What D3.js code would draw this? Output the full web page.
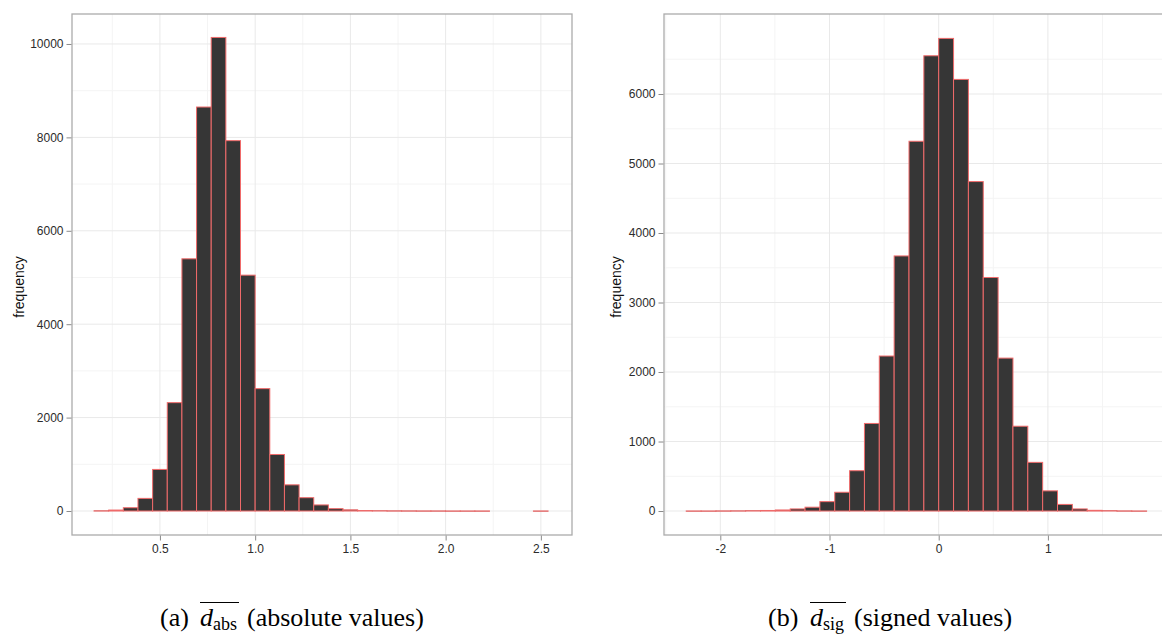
<!DOCTYPE html>
<html>
<head>
<meta charset="utf-8">
<script src="https://cdn.jsdelivr.net/npm/d3@7"></script>
<style>
  html, body { margin: 0; padding: 0; background: #fff; }
  svg { display: block; }
</style>
</head>
<body>
<svg id="chart" width="1162" height="635"></svg>
<script>
// ---------- DATA ----------
// Panel (a): absolute values histogram
const absBinStart = 0.154;
const absBinWidth = 0.0769;
const absCounts = [5, 20, 70, 270, 890, 2320, 5400, 8650, 10140, 7930, 5050, 2620, 1210, 560, 285, 130, 50, 25, 10, 6, 4, 3, 2, 2, 1, 1, 1, 0, 0, 0, 1];
const absXTicks = [0.5, 1.0, 1.5, 2.0, 2.5];
const absXTickLabels = ["0.5", "1.0", "1.5", "2.0", "2.5"];
const absXMinor = [0.25, 0.75, 1.25, 1.75, 2.25];
const absYTicks = [0, 2000, 4000, 6000, 8000, 10000];
const absYTickLabels = ["0", "2000", "4000", "6000", "8000", "10000"];
const absYMinor = [1000, 3000, 5000, 7000, 9000];

// Panel (b): signed values histogram
const sigBinStart = -2.312;
const sigBinWidth = 0.136;
const sigCounts = [1, 1, 2, 3, 5, 8, 15, 30, 55, 135, 270, 580, 1260, 2230, 3670, 5320, 6550, 6800, 6210, 4740, 3360, 2200, 1220, 700, 290, 95, 30, 10, 5, 2, 1];
const sigXTicks = [-2, -1, 0, 1];
const sigXTickLabels = ["-2", "-1", "0", "1"];
const sigXMinor = [-2.5, -1.5, -0.5, 0.5, 1.5];
const sigYTicks = [0, 1000, 2000, 3000, 4000, 5000, 6000];
const sigYTickLabels = ["0", "1000", "2000", "3000", "4000", "5000", "6000"];
const sigYMinor = [500, 1500, 2500, 3500, 4500, 5500, 6500];

const yTitle = "frequency";

// ---------- LAYOUT ----------
const svg = d3.select("#chart");
const sansFont = "'Liberation Sans', Arial, Helvetica, sans-serif";
const serifFont = "'Liberation Serif', 'Times New Roman', serif";

const panels = [
  {
    binStart: absBinStart, binWidth: absBinWidth, counts: absCounts,
    xTicks: absXTicks, xLabels: absXTickLabels, xMinor: absXMinor,
    yTicks: absYTicks, yLabels: absYTickLabels, yMinor: absYMinor,
    xDomain: [0.0383, 2.6635], yDomain: [-514, 10642],
    left: 72, right: 572, top: 14, bottom: 535, titleX: 19, titleY: 287
  },
  {
    binStart: sigBinStart, binWidth: sigBinWidth, counts: sigCounts,
    xTicks: sigXTicks, xLabels: sigXTickLabels, xMinor: sigXMinor,
    yTicks: sigYTicks, yLabels: sigYTickLabels, yMinor: sigYMinor,
    xDomain: [-2.5156, 2.109], yDomain: [-345, 7151],
    left: 664, right: 1169, top: 14, bottom: 535, titleX: 616, titleY: 287
  }
];

panels.forEach(p => {
  const x = d3.scaleLinear().domain(p.xDomain).range([p.left, p.right]);
  const y = d3.scaleLinear().domain(p.yDomain).range([p.bottom, p.top]);
  const g = svg.append("g");

  // minor grid
  g.selectAll(".vminor").data(p.xMinor.filter(v => v > p.xDomain[0] && v < p.xDomain[1]))
    .join("line").attr("x1", d => x(d)).attr("x2", d => x(d))
    .attr("y1", p.top).attr("y2", p.bottom)
    .attr("stroke", "#f4f4f4").attr("stroke-width", 1);
  g.selectAll(".hminor").data(p.yMinor.filter(v => v > p.yDomain[0] && v < p.yDomain[1]))
    .join("line").attr("y1", d => y(d)).attr("y2", d => y(d))
    .attr("x1", p.left).attr("x2", p.right)
    .attr("stroke", "#f4f4f4").attr("stroke-width", 1);
  // major grid
  g.selectAll(".vmajor").data(p.xTicks)
    .join("line").attr("x1", d => x(d)).attr("x2", d => x(d))
    .attr("y1", p.top).attr("y2", p.bottom)
    .attr("stroke", "#e9e9e9").attr("stroke-width", 1);
  g.selectAll(".hmajor").data(p.yTicks)
    .join("line").attr("y1", d => y(d)).attr("y2", d => y(d))
    .attr("x1", p.left).attr("x2", p.right)
    .attr("stroke", "#e9e9e9").attr("stroke-width", 1);

  // bars
  const bins = p.counts.map((c, i) => ({ x0: p.binStart + i * p.binWidth, x1: p.binStart + (i + 1) * p.binWidth, c }));
  g.selectAll(".bar").data(bins.filter(b => b.c > 0))
    .join("rect")
    .attr("x", d => x(d.x0))
    .attr("width", d => x(d.x1) - x(d.x0))
    .attr("y", d => y(d.c))
    .attr("height", d => Math.max(0.3, y(0) - y(d.c)))
    .attr("fill", "#363636")
    .attr("stroke", "#f06a6a")
    .attr("stroke-width", 1);

  // frame
  g.append("rect")
    .attr("x", p.left).attr("y", p.top)
    .attr("width", p.right - p.left).attr("height", p.bottom - p.top)
    .attr("fill", "none").attr("stroke", "#ababab").attr("stroke-width", 1.3);

  // axes
  const yAxis = d3.axisLeft(y).tickValues(p.yTicks)
    .tickFormat((d, i) => p.yLabels[i]).tickSize(5).tickPadding(3);
  const ya = g.append("g").attr("transform", `translate(${p.left - 0.5},0)`).call(yAxis);
  ya.select(".domain").remove();
  ya.selectAll(".tick line").attr("stroke", "#8a8a8a");
  ya.selectAll(".tick text").attr("fill", "#2b2b2b").style("font-family", sansFont).style("font-size", "12px");

  const xAxis = d3.axisBottom(x).tickValues(p.xTicks)
    .tickFormat((d, i) => p.xLabels[i]).tickSize(5).tickPadding(4);
  const xa = g.append("g").attr("transform", `translate(0,${p.bottom + 0.5})`).call(xAxis);
  xa.select(".domain").remove();
  xa.selectAll(".tick line").attr("stroke", "#8a8a8a");
  xa.selectAll(".tick text").attr("fill", "#2b2b2b").style("font-family", sansFont).style("font-size", "12px");

  // y title
  svg.append("text")
    .attr("transform", `translate(${p.titleX + 5},${p.titleY}) rotate(-90)`)
    .attr("text-anchor", "middle")
    .style("font-family", sansFont).style("font-size", "14px")
    .attr("fill", "#111")
    .text(yTitle);
});

// ---------- CAPTIONS ----------
const captions = [
  { label: "(a)", labelX: 160, dX: 200, sub: "abs", subX: 213, barX1: 200, barX2: 239, rest: "(absolute values)", restX: 247 },
  { label: "(b)", labelX: 768, dX: 810, sub: "sig", subX: 823, barX1: 810, barX2: 846, rest: "(signed values)", restX: 854 }
];
const capBase = 626;
captions.forEach(c => {
  const t = svg.append("g").style("font-family", serifFont).attr("fill", "#000");
  t.append("text").attr("x", c.labelX).attr("y", capBase).style("font-size", "26px").text(c.label);
  t.append("text").attr("x", c.dX).attr("y", capBase).style("font-size", "26px").style("font-style", "italic").text("d");
  t.append("text").attr("x", c.subX).attr("y", capBase + 4).style("font-size", "18px").text(c.sub);
  t.append("line").attr("x1", c.barX1).attr("x2", c.barX2).attr("y1", 602.5).attr("y2", 602.5)
    .attr("stroke", "#000").attr("stroke-width", 1.1);
  t.append("text").attr("x", c.restX).attr("y", capBase).style("font-size", "26px").text(c.rest);
});
</script>
</body>
</html>
